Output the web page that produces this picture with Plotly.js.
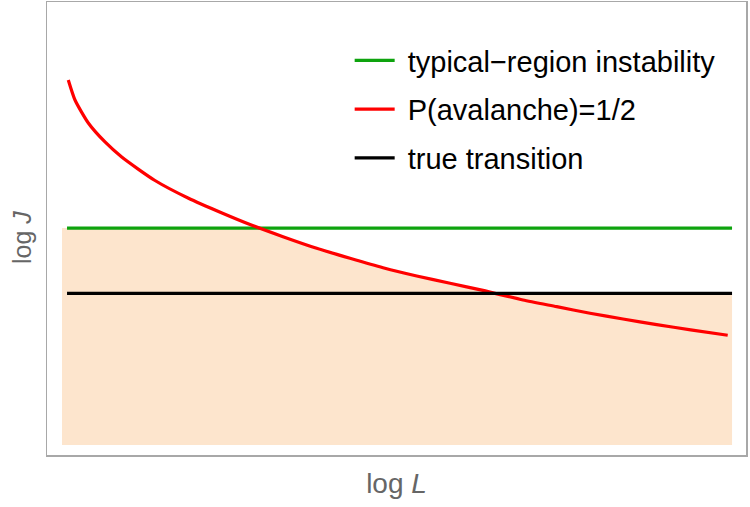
<!DOCTYPE html>
<html>
<head>
<meta charset="utf-8">
<script src="https://cdn.plot.ly/plotly-3.0.1.min.js"></script>
<style>html,body{margin:0;padding:0;background:#fff;}#chart{width:750px;height:507px;}</style>
</head>
<body>
<div id="chart"></div>
<script>
// ---- data (arbitrary log units) ----
const seriesNames = ["typical\u2212region instability", "P(avalanche)=1/2", "true transition"];
const axisTitles = ["log <i>L</i>", "log <i>J</i>"];
const redLogL = [0.305, 0.401, 0.592, 0.831, 1.070, 1.547, 2.020, 2.507, 2.908, 3.381, 3.864, 4.341, 4.814, 5.297, 5.774, 6.246, 6.819, 7.302, 7.779, 8.252, 8.735, 9.221, 9.752];
const redLogJ = [8.333, 7.889, 7.378, 6.956, 6.622, 6.100, 5.711, 5.378, 5.122, 4.851, 4.593, 4.371, 4.162, 3.978, 3.816, 3.658, 3.444, 3.296, 3.149, 3.022, 2.898, 2.782, 2.662];
const greenLogJ = 5.044;
const blackLogJ = 3.593;
const lineLogL = [0.287, 9.814];
const shadeLogL = [0.215, 9.814];
const shadeBottom = 0.222;

// ---- shaded region: below max(black, min(green, red)) ----
function redAt(x) {
  if (x <= redLogL[0]) return Infinity;
  if (x >= redLogL[redLogL.length - 1]) return -Infinity;
  for (let i = 0; i < redLogL.length - 1; i++) {
    if (x >= redLogL[i] && x <= redLogL[i + 1]) {
      const t = (x - redLogL[i]) / (redLogL[i + 1] - redLogL[i]);
      return redLogJ[i] + t * (redLogJ[i + 1] - redLogJ[i]);
    }
  }
  return -Infinity;
}
let xs = [shadeLogL[0], shadeLogL[1]];
redLogL.forEach(x => { if (x > shadeLogL[0] && x < shadeLogL[1]) xs.push(x); });
[greenLogJ, blackLogJ].forEach(level => {
  for (let i = 0; i < redLogL.length - 1; i++) {
    const a = redLogJ[i] - level, b = redLogJ[i + 1] - level;
    if (a * b < 0) {
      const t = a / (a - b);
      xs.push(redLogL[i] + t * (redLogL[i + 1] - redLogL[i]));
    }
  }
});
xs.sort((a, b) => a - b);
const tops = xs.map(x => Math.max(blackLogJ, Math.min(greenLogJ, redAt(x))));
const shadeX = [xs[0]].concat(xs, [xs[xs.length - 1]]);
const shadeY = [shadeBottom].concat(tops, [shadeBottom]);

const NB = '\u00a0';
const traces = [
  {x: shadeX, y: shadeY, type: 'scatter', mode: 'lines', fill: 'toself',
   fillcolor: 'rgb(253,229,205)', line: {width: 0, color: 'rgba(0,0,0,0)'},
   showlegend: false, hoverinfo: 'skip'},
  {x: lineLogL, y: [greenLogJ, greenLogJ], type: 'scatter', mode: 'lines',
   name: NB + seriesNames[0], legendgroup: 'g', line: {color: '#0ea30e', width: 3.2}},
  {x: redLogL, y: redLogJ, type: 'scatter', mode: 'lines', line: {shape: 'spline', smoothing: 0.6, color: '#ff0000', width: 3.2},
   name: NB + seriesNames[1], legendgroup: 'r'},
  {x: lineLogL, y: [blackLogJ, blackLogJ], type: 'scatter', mode: 'lines',
   name: NB + seriesNames[2], legendgroup: 'b', line: {color: '#000000', width: 3.2}}
];

const axisCommon = {showgrid: false, zeroline: false, showticklabels: false, ticks: '',
  showline: true, mirror: true, linecolor: '#a8a8a8', linewidth: 1.5, fixedrange: true};

const layout = {
  width: 750, height: 507,
  margin: {l: 47, r: 4, t: 2, b: 52},
  paper_bgcolor: '#ffffff', plot_bgcolor: '#ffffff',
  font: {family: 'Liberation Sans, Arial, sans-serif'},
  showlegend: true,
  legend: {x: 0.433, y: 0.927, xanchor: 'left', yanchor: 'top', bgcolor: 'rgba(0,0,0,0)',
    font: {size: 29, color: '#000', family: 'Liberation Sans, Arial, sans-serif'},
    tracegroupgap: 8, itemwidth: 40},
  xaxis: Object.assign({}, axisCommon, {range: [0, 10.014],
    title: {text: axisTitles[0], font: {size: 28, color: '#666666'}, standoff: 18}}),
  yaxis: Object.assign({}, axisCommon, {range: [0, 10.067]}),
  annotations: [{text: axisTitles[1], xref: 'paper', yref: 'paper', x: -0.0358, y: 0.481,
    xanchor: 'center', yanchor: 'middle', textangle: -90, showarrow: false,
    font: {size: 25, color: '#666666', family: 'Liberation Sans, Arial, sans-serif'}}]
};

Plotly.newPlot('chart', traces, layout, {staticPlot: true, displayModeBar: false});
</script>
</body>
</html>
